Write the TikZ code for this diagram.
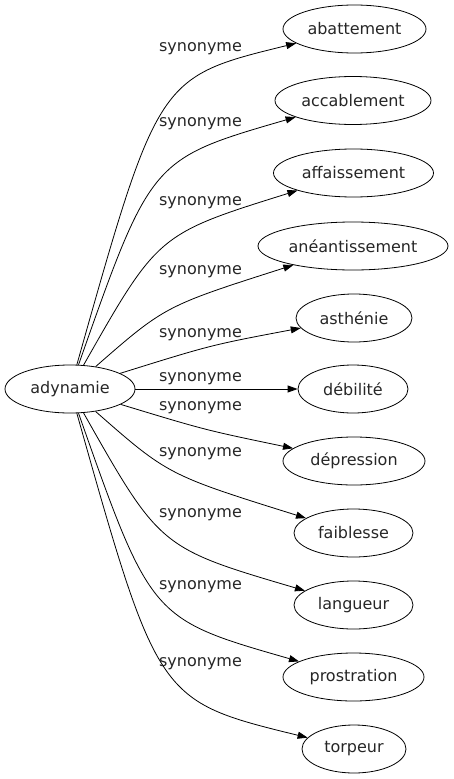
\documentclass[tikz,border=0pt]{standalone}
\usepackage{fontspec}
\setmainfont{DejaVu Sans}
\usetikzlibrary{shapes.geometric,arrows.meta}
\begin{document}
\begin{tikzpicture}[x=1pt,y=-1pt,
  word/.style={ellipse,draw=black,line width=0.8pt,inner sep=0pt,minimum height=48pt,text=black!85,font=\fontsize{16}{19}\selectfont},
  lab/.style={inner sep=0pt,text=black!85,font=\fontsize{16}{19}\selectfont},
  edge/.style={draw=black,line width=0.8pt,-{Triangle[length=10pt,width=7pt]}}]
\useasboundingbox (0,0) rectangle (453,779);
\node[word,minimum width=130pt] (ady) at (70,389) {adynamie};
\node[word,minimum width=143pt] (n1) at (354.5,29) {abattement};
\node[word,minimum width=156pt] (n2) at (353,100.5) {accablement};
\node[word,minimum width=160pt] (n3) at (353.5,173) {affaissement};
\node[word,minimum width=190pt] (n4) at (353,246) {anéantissement};
\node[word,minimum width=116pt] (n5) at (354,318) {asthénie};
\node[word,minimum width=110pt] (n6) at (353,389) {débilité};
\node[word,minimum width=142pt] (n7) at (354,461) {dépression};
\node[word,minimum width=119pt] (n8) at (353.5,533) {faiblesse};
\node[word,minimum width=119pt] (n9) at (353.5,605) {langueur};
\node[word,minimum width=141pt] (n10) at (353.5,677) {prostration};
\node[word,minimum width=104pt] (n11) at (354,749) {torpeur};
\draw[edge] (ady) .. controls (158,77) .. (n1);
\draw[edge] (ady) .. controls (151,159) .. (n2);
\draw[edge] (ady) .. controls (158,234) .. (n3);
\draw[edge] (ady) .. controls (165,306) .. (n4);
\draw[edge] (ady) .. controls (211,345) .. (n5);
\draw[edge] (ady) -- (n6);
\draw[edge] (ady) .. controls (205,430) .. (n7);
\draw[edge] (ady) .. controls (168,475) .. (n8);
\draw[edge] (ady) .. controls (160,548) .. (n9);
\draw[edge] (ady) .. controls (151,619) .. (n10);
\draw[edge] (ady) .. controls (158,701) .. (n11);
\node[lab] (l1) at (200.5,48.3) {synonyme};
\node[lab] (l2) at (200.5,123.5) {synonyme};
\node[lab] (l3) at (200.5,202.5) {synonyme};
\node[lab] (l4) at (200.5,271.5) {synonyme};
\node[lab] (l5) at (200.5,334.5) {synonyme};
\node[lab] (l6) at (200.5,379) {synonyme};
\node[lab] (l7) at (200.5,407.5) {synonyme};
\node[lab] (l8) at (200.5,453.7) {synonyme};
\node[lab] (l9) at (200.5,515) {synonyme};
\node[lab] (l10) at (200.5,586.7) {synonyme};
\node[lab] (l11) at (200.5,663.7) {synonyme};
\end{tikzpicture}
\end{document}
